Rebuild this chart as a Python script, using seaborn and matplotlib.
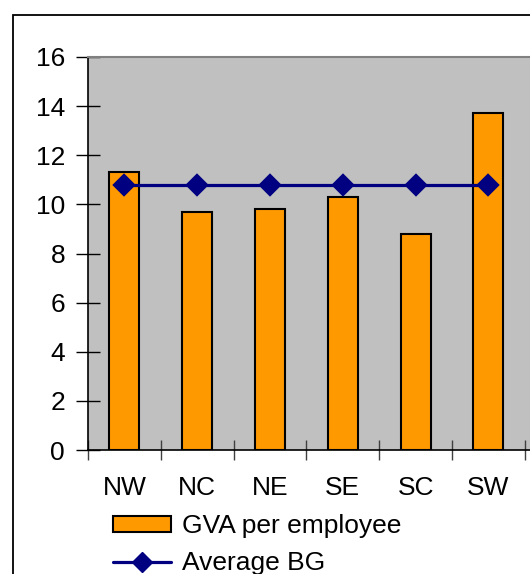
import numpy as np
import matplotlib.pyplot as plt
import seaborn as sns
from matplotlib.patches import Rectangle, Patch
from matplotlib.lines import Line2D
from matplotlib.ticker import FixedLocator

# dados
regioes = ["NW", "NC", "NE", "SE", "SC", "SW"]
gva_por_empregado = [11.3, 9.7, 9.8, 10.3, 8.8, 13.7]
media_bg = [10.8, 10.8, 10.8, 10.8, 10.8, 10.8]

laranja = "#FF9900"
azul = "#000080"
cinza = "#C0C0C0"

sns.set_style("white")
plt.rcParams["font.family"] = ["Liberation Sans", "DejaVu Sans"]
plt.rcParams["text.color"] = "black"
plt.rcParams["xtick.color"] = "black"
plt.rcParams["ytick.color"] = "black"

W, H = 530, 574
fig = plt.figure(figsize=(W / 100, H / 100), dpi=100)
# area do grafico (a direita passa da borda, como no original)
ax = fig.add_axes([88 / W, (H - 450) / H, (540 - 88) / W, (450 - 57) / H])
ax.set_facecolor(cinza)

sns.barplot(x=regioes, y=gva_por_empregado, color=laranja, width=0.41,
            edgecolor="black", linewidth=1.5, saturation=1, ax=ax)
sns.pointplot(x=regioes, y=media_bg, color=azul, markers="D", linestyles="-",
              markersize=10.5, linewidth=2.3, ax=ax)

ax.set_ylim(0, 16)
ax.set_yticks(np.arange(0, 17, 2))
ax.set_xlim(-0.5, -0.5 + (540 - 88) / 72.8)

# ticks nas divisões, rótulos no centro
n = len(regioes)
ax.xaxis.set_major_locator(FixedLocator(np.arange(-0.5, n, 1.0)))
ax.xaxis.set_minor_locator(FixedLocator(np.arange(n)))
ax.set_xticklabels([], minor=False)
ax.set_xticklabels(regioes, minor=True)
ax.tick_params(axis="x", which="major", bottom=True, direction="inout", length=15, width=1, color="#404040")
ax.tick_params(axis="x", which="minor", bottom=True, length=0, pad=19, labelsize=19, labelcolor="black")
ax.tick_params(axis="y", left=True, direction="inout", length=17, width=1, color="black", pad=8,
               labelsize=19, labelcolor="black")
ax.set_xlabel("")
ax.set_ylabel("")

for lado in ["left", "bottom"]:
    ax.spines[lado].set_color("black")
    ax.spines[lado].set_linewidth(1.2)
ax.spines["top"].set_color("#808080")
ax.spines["top"].set_linewidth(1.5)
ax.spines["right"].set_visible(False)

# legenda embaixo
itens = [Patch(facecolor=laranja, edgecolor="black", linewidth=1.5, label="GVA per employee"),
         Line2D([0], [0], color=azul, marker="D", markersize=10, linewidth=2.3, label="Average BG")]
fig.legend(handles=itens, loc="upper left", bbox_to_anchor=(113 / W, (H - 514) / H),
           frameon=False, fontsize=19, handlelength=2.2, handleheight=0.55,
           handletextpad=0.4, labelspacing=0.5, borderpad=0, borderaxespad=0)

# borda do quadro
fig.patches.append(Rectangle((13 / W, -0.2), 2, (H - 15) / H + 0.2, transform=fig.transFigure,
                             fill=False, edgecolor="black", linewidth=1.3))

plt.savefig("out.png", dpi=100)
